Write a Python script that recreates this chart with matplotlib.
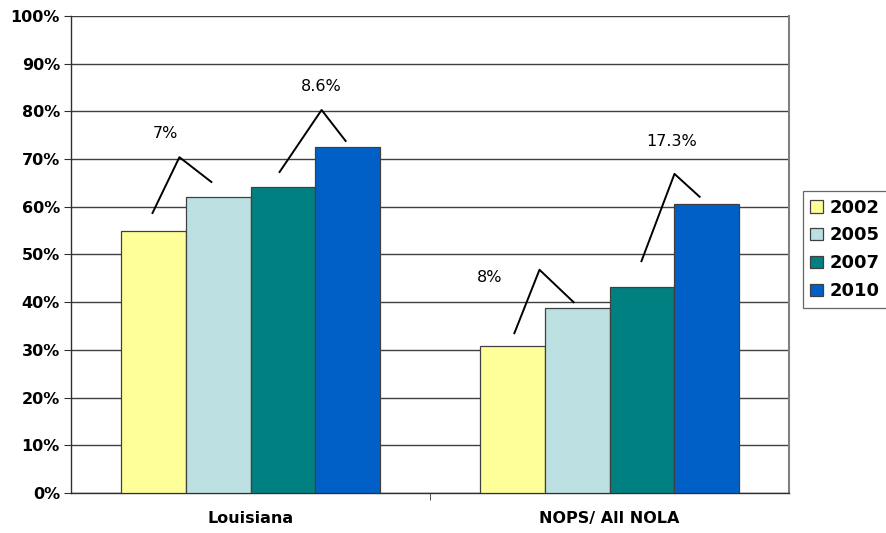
import matplotlib
matplotlib.use("Agg")
import matplotlib.pyplot as plt
import numpy as np

categories = ["Louisiana", "NOPS/ All NOLA"]
years = ["2002", "2005", "2007", "2010"]
values = {
    "2002": [55.0, 30.8],
    "2005": [62.1, 38.8],
    "2007": [64.2, 43.2],
    "2010": [72.5, 60.6],
}
colors = ["#FFFF99", "#BCDFE1", "#008080", "#0060C8"]
yticks = [0, 10, 20, 30, 40, 50, 60, 70, 80, 90, 100]

# annotation labels (angle-shaped callouts)
ann_labels = ["7%", "8.6%", "8%", "17.3%"]
ann_lines = [
    [(-0.273, 58.7), (-0.198, 70.4), (-0.109, 65.2)],
    [(0.081, 67.3), (0.198, 80.3), (0.265, 73.8)],
    [(0.735, 33.5), (0.805, 46.8), (0.900, 40.0)],
    [(1.089, 48.6), (1.181, 66.9), (1.251, 62.1)],
]
ann_text_pos = [(-0.237, 75.3), (0.198, 85.3), (0.666, 45.1), (1.173, 73.6)]

fig = plt.figure(figsize=(8.86, 5.33), dpi=100)
ax = fig.add_axes([71/886, 40/533, (789-71)/886, (493-16)/533])

x = np.arange(len(categories))
bw = 0.181
for i, y in enumerate(years):
    ax.bar(x + (i - 1.5) * bw, values[y], width=bw, color=colors[i],
           edgecolor="#404040", linewidth=0.9, label=y, zorder=3)

ax.set_xlim(-0.5, 1.5)
ax.set_ylim(0, 100)
ax.set_yticks(yticks)
ax.set_yticklabels([f"{t}%" for t in yticks], fontsize=11.5, fontweight="heavy")
ax.yaxis.grid(True, color="#404040", linewidth=1.0, zorder=0)
ax.set_axisbelow(True)

ax.set_xticks(x)
ax.set_xticklabels(categories, fontsize=11.5, fontweight="bold")
ax.tick_params(axis="x", length=0, pad=13)
ax.set_xticks([0.5], minor=True)
ax.tick_params(axis="x", which="minor", length=5, color="#303030")
ax.tick_params(axis="y", length=5, color="#303030", pad=3)

for s in ["left", "bottom"]:
    ax.spines[s].set_color("#303030")
    ax.spines[s].set_linewidth(1.0)
ax.spines["right"].set_color("#808080")
ax.spines["right"].set_linewidth(1.5)
ax.spines["top"].set_visible(False)

for lab, pts, tp in zip(ann_labels, ann_lines, ann_text_pos):
    xs, ys = zip(*pts)
    ax.plot(xs, ys, color="black", linewidth=1.4, zorder=5, clip_on=False)
    ax.text(tp[0], tp[1], lab, ha="center", va="center", fontsize=11.5,
            color="black", zorder=6)

leg = ax.legend(loc="center left", bbox_to_anchor=(803/886, 0.532),
                bbox_transform=fig.transFigure, frameon=True, fancybox=False,
                edgecolor="#404040", prop={"weight": "bold", "size": 13},
                handlelength=0.7, handleheight=0.7, handletextpad=0.4,
                labelspacing=0.55, borderpad=0.4, borderaxespad=0)
leg.get_frame().set_linewidth(0.9)

fig.savefig("out.png", dpi=100)
